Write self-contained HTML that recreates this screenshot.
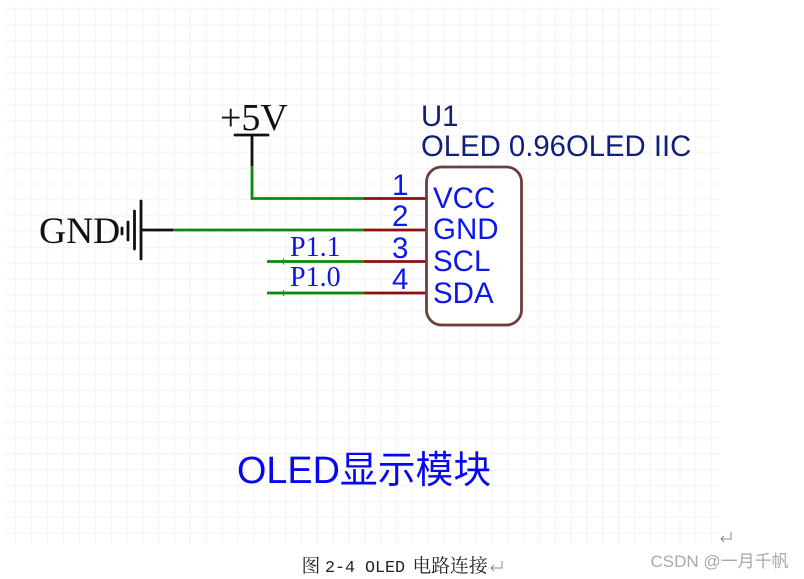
<!DOCTYPE html>
<html><head><meta charset="utf-8"><style>
html,body{margin:0;padding:0;background:#fff;width:804px;height:579px;overflow:hidden}
svg{display:block}
#m{filter:blur(.35px)}
</style></head><body>
<svg width="804" height="579" viewBox="0 0 804 579" xmlns="http://www.w3.org/2000/svg">
<g stroke="#f6f6f6" stroke-width="1.5" fill="none">
<path d="M15 6V544M31 6V544M47 6V544M63 6V544M79 6V544M95 6V544M111 6V544M126.800 6V544M142.700 6V544M158.600 6V544M174.500 6V544M190.300 6V544M206.200 6V544M222 6V544M237.900 6V544M253.800 6V544M269.700 6V544M285.500 6V544M301.400 6V544M317.300 6V544M333.100 6V544M349 6V544M364.900 6V544M380.700 6V544M396.600 6V544M412.500 6V544M428.300 6V544M444.200 6V544M460 6V544M475.900 6V544M491.800 6V544M507.700 6V544M523.500 6V544M539.400 6V544M555.300 6V544M571.100 6V544M587 6V544M602.900 6V544M618.700 6V544M634.600 6V544M650.500 6V544M664.300 6V544M680 6V544M695.500 6V544M711 6V544"/>
<path d="M5 9H720M5 25H720M5 41H720M5 57H720M5 73H720M5 88.800H720M5 104.700H720M5 120.600H720M5 136.400H720M5 152.300H720M5 168.200H720M5 184H720M5 199.900H720M5 215.800H720M5 231.600H720M5 247.500H720M5 263.400H720M5 279.200H720M5 295.100H720M5 311H720M5 326.800H720M5 342.700H720M5 358.600H720M5 374.400H720M5 390.300H720M5 406.200H720M5 422H720M5 437.900H720M5 453.800H720M5 469.600H720M5 485.500H720M5 501.400H720M5 517.200H720M5 533.100H720"/>
</g>
<g id="m">
<g fill="none" stroke-linecap="butt">
<path d="M235 135H268" stroke="#111" stroke-width="2.8" stroke-linecap="round"/>
<path d="M252 135V166" stroke="#111" stroke-width="2.800"/>
<path d="M252 166V198.500H364" stroke="#0a8a0a" stroke-width="2.800"/>
<path d="M173 230H364" stroke="#0a8a0a" stroke-width="2.800"/>
<path d="M141 230H173" stroke="#111" stroke-width="2.800"/>
<path d="M141 201V259M134.500 211V249M128 222V240M122 228V234" stroke="#111" stroke-width="2.800" stroke-linecap="round"/>
<path d="M267 261.500H364M267 293H364" stroke="#0a8a0a" stroke-width="2.800"/>
<path d="M283.500 258.500V264.500M283.500 290V296" stroke="#666" stroke-width="1.200"/>
<path d="M364 198.500H427M364 230H427M364 261.500H427M364 293H427" stroke="#8b1010" stroke-width="2.800"/>
<rect x="426.500" y="167" width="95" height="158" rx="15" fill="#fff" stroke="#6b3f3c" stroke-width="2.800"/>
</g>
<g font-family="'Liberation Serif',serif">
<text x="220" y="130" font-size="38" fill="#111">+5V</text>
<text x="39" y="243" font-size="37.500" fill="#111">GND</text>
<g fill="#0b18e0" font-size="28">
<text x="290" y="256">P1.1</text>
<text x="290" y="286">P1.0</text>
</g>
</g>
<g font-family="'Liberation Sans',sans-serif">
<text x="421" y="126" font-size="29.300" fill="#10207a">U1</text>
<text x="421" y="156" font-size="29.300" fill="#10207a">OLED 0.96OLED IIC</text>
<g fill="#0b18e8" font-size="29.500">
<text x="392" y="195">1</text>
<text x="392" y="226">2</text>
<text x="392" y="258">3</text>
<text x="392" y="289">4</text>
<text x="433" y="208">VCC</text>
<text x="433" y="239">GND</text>
<text x="433" y="271">SCL</text>
<text x="433" y="303">SDA</text>
</g>
<text x="237" y="483" font-size="37.800" fill="#0808ee" font-family="'Liberation Sans','Noto Sans CJK SC',sans-serif">OLED显示模块</text>
<text x="650.500" y="567" font-size="17" fill="#a9a9a9" font-family="'Liberation Sans','Noto Sans CJK SC',sans-serif">CSDN @一月千帆</text>
</g>
<g fill="#222">
<text x="301.500" y="572" font-size="18.800" font-family="'Noto Serif CJK SC',serif">图</text>
<text x="325" y="572" font-size="16.700" font-family="'Liberation Mono',monospace">2-4</text>
<text x="365" y="572" font-size="16.700" font-family="'Liberation Mono',monospace">OLED</text>
<text x="412.500" y="572" font-size="18.800" font-family="'Noto Serif CJK SC',serif">电路连接</text>
</g>
<g fill="none" stroke="#888" stroke-width="1">
<path d="M731 532V539H721M724 536L721 539L724 542"/>
<path d="M502 561V568H491M494 565L491 568L494 571"/>
</g>
</g>
</svg>
</body></html>
